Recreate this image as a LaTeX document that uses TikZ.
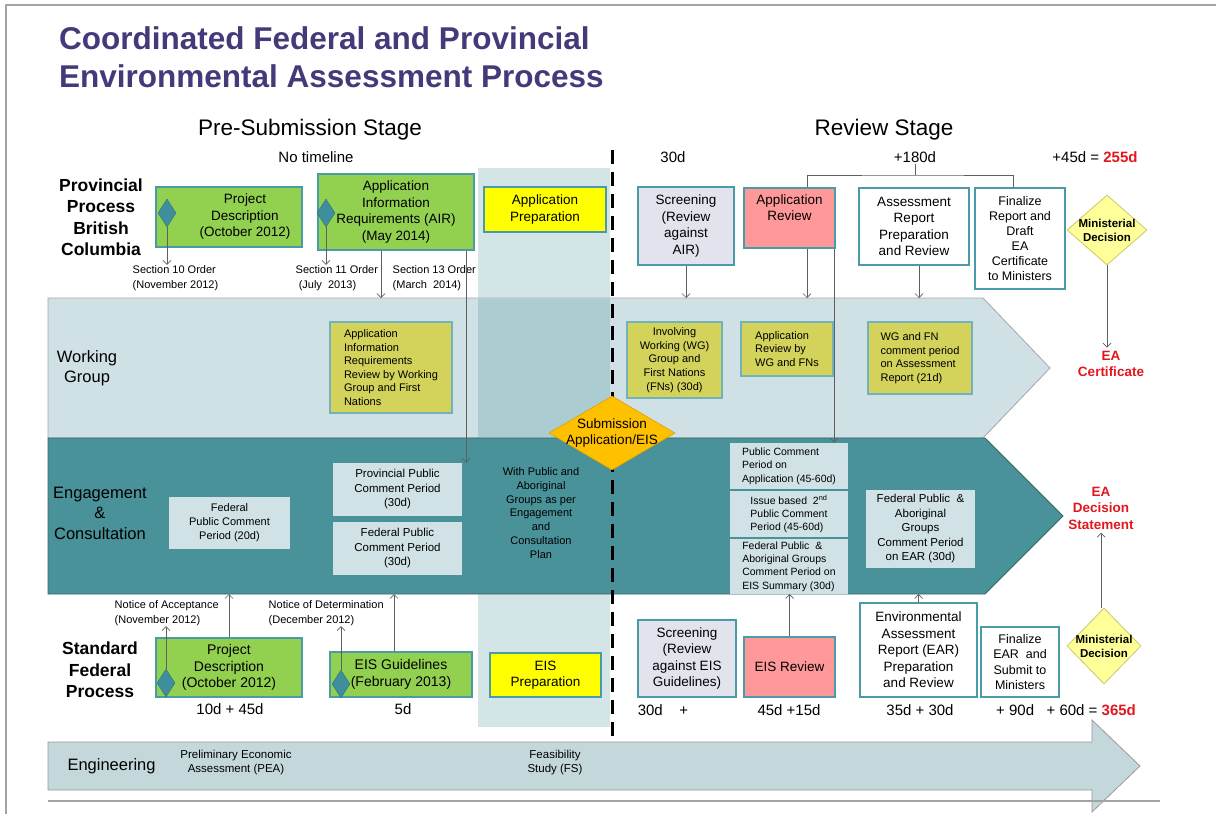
\documentclass[tikz,border=0pt]{standalone}
\usepackage{fontspec}
\setmainfont{Liberation Sans}
\usetikzlibrary{shapes.geometric,arrows.meta}
\definecolor{titlepurple}{HTML}{46397A}
\definecolor{boxgreen}{HTML}{92D050}
\definecolor{boxborder}{HTML}{4A9BA8}
\definecolor{boxyellow}{HTML}{FFFF00}
\definecolor{boxlav}{HTML}{E3E3EE}
\definecolor{boxpink}{HTML}{FF9999}
\definecolor{boxolive}{HTML}{D3D35C}
\definecolor{oliveborder}{HTML}{72B2BA}
\definecolor{wgband}{HTML}{CFE1E4}
\definecolor{colshade}{HTML}{D3E5E7}
\definecolor{colshadedark}{HTML}{ABCDD2}
\definecolor{engband}{HTML}{4A9299}
\definecolor{engbox}{HTML}{D0E2E5}
\definecolor{subdia}{HTML}{FFC000}
\definecolor{mindia}{HTML}{FFFF99}
\definecolor{mindiaborder}{HTML}{C9C96B}
\definecolor{redtxt}{HTML}{E3161D}
\definecolor{arrgray}{HTML}{5F5F5F}
\definecolor{engarrow}{HTML}{C4D8DB}
\definecolor{framegray}{HTML}{A3A3A3}
\definecolor{markteal}{HTML}{3E8E9C}
\newcommand{\fsz}[2]{\fontsize{#1}{#2}\selectfont}
\tikzset{
  box/.style={draw=boxborder, line width=1.8pt, inner sep=1pt, align=center, font=\fsz{13.5}{16.5}},
  greenbox/.style={box, fill=boxgreen},
  yelbox/.style={box, fill=boxyellow},
  lavbox/.style={box, fill=boxlav},
  pinkbox/.style={box, fill=boxpink},
  whitebox/.style={box, fill=white},
  olivebox/.style={draw=oliveborder, line width=1.2pt, fill=boxolive, inner sep=1pt, font=\fsz{11}{13.6}},
  engbx/.style={fill=engbox, inner sep=1pt, font=\fsz{11.5}{14.5}, align=center},
  markdia/.style={diamond, fill=markteal, draw=markteal!80!black, line width=0.4pt, minimum width=18pt, minimum height=28pt, inner sep=0pt},
  mindec/.style={diamond, fill=mindia, draw=mindiaborder, line width=0.8pt, inner sep=0pt},
  arr/.style={draw=arrgray, line width=0.7pt, -{Straight Barb[length=4pt,width=8pt]}},
  thinln/.style={draw=arrgray, line width=0.7pt},
  note/.style={font=\fsz{11}{14.5}, align=left, inner sep=0.5pt, anchor=west},
  tline/.style={font=\fsz{15}{18}, inner sep=1pt},
  rowhead/.style={font=\bfseries\fsz{17.5}{21.5}, align=center},
  bandlbl/.style={font=\fsz{16.5}{20.5}, align=center},
  redlbl/.style={font=\bfseries\fsz{13.5}{16.5}, text=redtxt, align=center},
}
\begin{document}
\begin{tikzpicture}[x=1pt,y=-1pt]
\useasboundingbox (0,0) rectangle (1216,814);
% frame
\draw[framegray, line width=2.5pt] (6,814) -- (6,5) -- (1216,5);
% title
\node[anchor=west, font=\bfseries\fsz{31.5}{38}, text=titlepurple, inner sep=0pt] (title1) at (59,38) {Coordinated Federal and Provincial};
\node[anchor=west, font=\bfseries\fsz{31.5}{38}, text=titlepurple, inner sep=0pt] (title2) at (59,76) {Environmental Assessment Process};
% stage headings
\node[font=\fsz{22.5}{26}] (pre) at (310,130) {Pre-Submission Stage};
\node[font=\fsz{22.5}{26}] (rev) at (884,130) {Review Stage};
\node[font=\fsz{15}{18}] (notl) at (316,157) {No timeline};
\node[tline] (t30) at (673,157) {30d};
\node[tline] (t180) at (915,157) {+180d};
\node[tline] (t45) at (1095,157) {+45d = {\color{redtxt}\bfseries 255d}};

% column shade
\fill[colshade] (478,168) rectangle (610,727);
% working group band
\filldraw[fill=wgband, draw=gray!70, line width=0.8pt] (48,298) -- (983,298) -- (1050,368) -- (983,438) -- (48,438) -- cycle;
\fill[colshadedark] (478,298.5) rectangle (610,437.5);
% engagement band
\filldraw[fill=engband, draw=engband!70!black, line width=0.8pt] (48,438) -- (985,438) -- (1063,516) -- (985,594) -- (48,594) -- cycle;
% band coordinates
\coordinate (wgtop) at (0,298);
\coordinate (engtop) at (0,438);
\coordinate (engbot) at (0,594);
% dashed divider
\draw[black, line width=3pt, dash pattern=on 14pt off 8pt] (612,150) -- (612,745);

% row headings
\node[rowhead] (prov) at (101,217) {Provincial\\Process\\British\\Columbia};
\node[rowhead] (fed) at (100,670) {Standard\\Federal\\Process};
\node[bandlbl] (wglbl) at (87,368) {Working\\Group};
\node[bandlbl] (englbl) at (100,513) {Engagement\\\&\\Consultation};

% provincial row
\node[greenbox, minimum width=146pt, minimum height=60pt,
  label={[font=\fsz{13.5}{16.5}, align=center, xshift=16pt]center:{Project\\Description\\(October 2012)}}] (pd1) at (229,217) {};
\node[markdia] (d1) at (167,213) {};
\node[greenbox, minimum width=156pt, minimum height=76pt] (air) at (396,212) {Application\\Information\\Requirements (AIR)\\(May 2014)};
\node[markdia] (d2) at (326,213) {};
\node[note] (sec10) at (132,278) {Section 10 Order\\(November 2012)};
\node[note] (sec11) at (295,278) {Section 11 Order\\\ (July\ \ 2013)};
\node[note] (sec13) at (392,278) {Section 13 Order\\(March\ \ 2014)};
\node[yelbox, minimum width=122pt, minimum height=45pt] (appprep) at (545,209.5) {Application\\Preparation};
\node[lavbox, minimum width=96pt, minimum height=78pt] (scr1) at (686,226) {Screening\\(Review\\against\\AIR)};
\node[pinkbox, minimum width=91pt, minimum height=60pt,
  label={[anchor=north, yshift=-4pt, font=\fsz{13.5}{16.5}, align=center]north:{Application\\Review}}] (ar1) at (789.5,218) {};
\node[whitebox, minimum width=110pt, minimum height=77pt] (asr) at (914,226.5) {Assessment\\Report\\Preparation\\and Review};
\node[whitebox, minimum width=90pt, minimum height=101pt, font=\fsz{12.5}{15}] (fin1) at (1020,238.5) {Finalize\\Report and\\Draft\\EA\\Certificate\\to Ministers};
\node[mindec, minimum width=80pt, minimum height=70pt,
  label={[font=\bfseries\fsz{11.5}{14}, align=center]center:{Ministerial\\Decision}}] (min1) at (1107,230) {};
\node[redlbl] (eacert) at (1111,364) {EA\\Certificate};

% working group boxes
\node[olivebox, minimum width=122pt, minimum height=91pt, align=left] (airwg) at (391,367.5) {Application\\Information\\Requirements\\Review by Working\\Group and First\\Nations};
\node[olivebox, minimum width=95pt, minimum height=76pt, align=center] (iwg) at (674.5,360) {Involving\\Working (WG)\\Group and\\First Nations\\(FNs) (30d)};
\node[olivebox, minimum width=92pt, minimum height=54pt, align=left] (arwg) at (787,349) {Application\\Review by\\WG and FNs};
\node[olivebox, minimum width=104pt, minimum height=72pt, align=left] (wgfn) at (920,358) {WG and FN\\comment period\\on Assessment\\Report (21d)};

% engagement boxes
\node[engbx, minimum width=121pt, minimum height=52pt, font=\fsz{11}{14}] (fpc20) at (229.5,523) {Federal\\Public Comment\\Period (20d)};
\node[engbx, minimum width=129pt, minimum height=53pt] (ppc30) at (397.5,489.5) {Provincial Public\\Comment Period\\(30d)};
\node[engbx, minimum width=129pt, minimum height=53pt] (fpc30) at (397.5,548.5) {Federal Public\\Comment Period\\(30d)};
\node[font=\fsz{11}{13.7}, align=center] (withpub) at (541,513) {With Public and\\Aboriginal\\Groups as per\\Engagement\\and\\Consultation\\Plan};
\node[engbx, minimum width=118pt, minimum height=46pt, align=left, font=\fsz{10.5}{13.3}] (pca) at (789,466) {Public Comment\\Period on\\Application (45-60d)};
\node[engbx, minimum width=118pt, minimum height=46pt, align=left, font=\fsz{10.5}{13.3}] (ib2) at (789,514) {Issue based\ \ 2\textsuperscript{nd}\\Public Comment\\Period (45-60d)};
\node[engbx, minimum width=118pt, minimum height=55pt, align=left, font=\fsz{10.5}{13.3}] (fpe) at (789,566.5) {Federal Public\ \ \&\\Aboriginal Groups\\Comment Period on\\EIS Summary (30d)};
\node[engbx, minimum width=109pt, minimum height=78pt] (fpear) at (920.5,529) {Federal Public\ \ \&\\Aboriginal\\Groups\\Comment Period\\on EAR (30d)};
\node[redlbl] (eads) at (1101,508) {EA\\Decision\\Statement};

% submission diamond
\node[diamond, fill=subdia, draw=subdia!85!black, line width=0.6pt, minimum width=126pt, minimum height=74pt, inner sep=0pt,
  label={[font=\fsz{13.5}{16}, align=center]center:{Submission\\Application/EIS}}] (sub) at (612,433) {};

% federal row
\node[note] (na) at (114,613) {Notice of Acceptance\\(November 2012)};
\node[note] (nd) at (268,613) {Notice of Determination\\(December 2012)};
\node[greenbox, minimum width=146pt, minimum height=59pt, font=\fsz{14}{16.5}] (pd2) at (229,667.5) {Project\\Description\\(October 2012)};
\node[markdia] (d3) at (166,683) {};
\node[greenbox, minimum width=142pt, minimum height=45pt, font=\fsz{14}{16.5}] (eisg) at (401,674.5) {EIS Guidelines\\(February 2013)};
\node[markdia] (d4) at (341,684) {};
\node[yelbox, minimum width=111pt, minimum height=44pt] (eisp) at (545.5,675) {EIS\\Preparation};
\node[lavbox, minimum width=98pt, minimum height=77pt] (scr2) at (687,658.5) {Screening\\(Review\\against EIS\\Guidelines)};
\node[pinkbox, minimum width=91pt, minimum height=60pt] (eisr) at (789.5,667) {EIS Review};
\node[whitebox, minimum width=117pt, minimum height=94pt] (ear) at (918.5,650) {Environmental\\Assessment\\Report (EAR)\\Preparation\\and Review};
\node[whitebox, minimum width=78pt, minimum height=70pt, font=\fsz{12.5}{15.5}] (fin2) at (1020,662) {Finalize\\EAR\ \ and\\Submit to\\Ministers};
\node[mindec, minimum width=74pt, minimum height=76pt,
  label={[font=\bfseries\fsz{11.5}{14}, align=center]center:{Ministerial\\Decision}}] (min2) at (1104,646) {};

% timeline labels
\node[tline] (tpd) at (230,709) {10d + 45d};
\node[tline] (teis) at (403,709) {5d};
\node[tline] (tscr) at (663,710) {30d\ \ \ \ +};
\node[tline] (teisr) at (789,710) {45d +15d};
\node[tline] (tear) at (920,710) {35d + 30d};
\node[tline] (tfin) at (1066,710) {+ 90d\ \ \ + 60d = {\color{redtxt}\bfseries 365d}};

% connectors (provincial)
\draw[arr] (d1.south) -- (d1.south |- sec10.north);
\draw[arr] (d2.south) -- (d2.south |- sec11.north);
\draw[arr] ([xshift=-15pt]air.south) -- ([xshift=-15pt]air.south |- wgtop);
\draw[arr] ([xshift=70pt]air.south) -- ([xshift=70pt]air.south |- ppc30.north);
\draw[arr] (scr1.south) -- (scr1.south |- wgtop);
\draw[arr] ([xshift=17.5pt]ar1.south) -- ([xshift=17.5pt]ar1.south |- wgtop);
\draw[arr] ([xshift=-2pt]ar1.south east) -- ([xshift=-2pt]ar1.south east |- pca.north);
\draw[arr] ([xshift=5pt]asr.south) -- ([xshift=5pt]asr.south |- wgtop);
\coordinate (brk) at (915,175);
\draw[thinln] (t180.south) -- (brk);
\draw[thinln] ([xshift=17.5pt]ar1.north) |- (brk) -| ([xshift=-7pt]fin1.north);
\draw[arr] (min1.south) -- (min1.south |- eacert.north);

% connectors (federal)
\draw[arr] (d3.north) -- (d3.north |- na.south);
\draw[arr] (d4.north) -- (d4.north |- nd.south);
\draw[arr] (pd2.north) -- (pd2.north |- engbot);
\draw[arr] ([xshift=-7pt]eisg.north) -- ([xshift=-7pt]eisg.north |- engbot);
\draw[arr] (eisr.north) -- (eisr.north |- engbot);
\draw[arr] (ear.north) -- (ear.north |- engbot);
\draw[arr] ([xshift=-3pt]min2.north) -- ([xshift=-3pt]min2.north |- eads.south);

% engineering arrow
\filldraw[fill=engarrow, draw=gray!80, line width=0.8pt] (48,742) -- (1092,742) -- (1092,720) -- (1140,766) -- (1092,812) -- (1092,790) -- (48,790) -- cycle;
\node[anchor=west, font=\fsz{16.5}{20}] (eng) at (64,766) {Engineering};
\node[font=\fsz{11.5}{14}, align=center] (pea) at (236,763) {Preliminary Economic\\Assessment (PEA)};
\node[font=\fsz{11.5}{14}, align=center] (fs) at (555,763) {Feasibility\\Study (FS)};
\draw[framegray, line width=1.2pt] (48,801) -- (1160,801);
\end{tikzpicture}
\end{document}
